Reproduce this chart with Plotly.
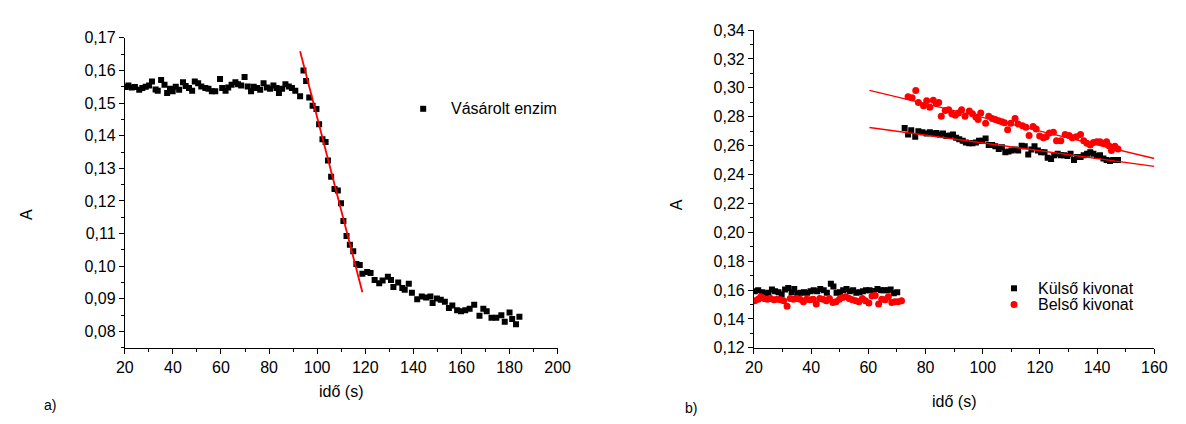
import plotly.graph_objects as go

# ---------------- data: panel a) ----------------
a_x = [20.4, 21.5, 22.9, 24.2, 26.0, 27.3, 28.7, 30.1, 31.3, 32.8, 33.7, 35.1, 36.5, 37.6, 38.8, 39.9,
       41.2, 42.6, 44.2, 45.3, 46.7, 48.0, 49.1, 50.5, 51.8, 53.5, 54.8, 56.2, 57.6, 59.6, 60.5, 61.9,
       63.0, 64.4, 66.0, 67.1, 68.4, 69.8, 71.1, 72.5, 73.6, 75.0, 76.3, 77.7, 79.1, 80.4, 81.8, 83.1,
       84.1, 85.4, 86.8, 88.2, 89.5, 90.9, 92.9,
       94.3, 95.4, 96.7, 98.1, 99.7, 100.8, 102.2, 103.5, 104.5, 105.8, 107.2, 108.6, 109.9, 110.9,
       112.2, 113.6, 115.0, 116.3, 117.7, 118.8,
       120.8, 122.2, 123.9, 125.8, 127.2, 129.4, 130.7, 131.7, 133.7, 135.4, 136.4, 138.1, 139.4,
       141.6, 143.5, 145.3, 147.1, 148.0, 149.8, 151.4, 153.1, 154.8, 156.2, 158.2, 159.8, 161.6,
       163.4, 165.3, 167.5, 169.1, 170.5, 172.5, 174.5, 176.6, 178.0, 180.0, 181.1, 182.7, 184.1]
a_y = [0.1549, 0.1554, 0.1548, 0.1549, 0.1541, 0.1546, 0.1550, 0.1554, 0.1566, 0.1542, 0.1538, 0.1571,
       0.1556, 0.1531, 0.1544, 0.1536, 0.1550, 0.1541, 0.1564, 0.1552, 0.1546, 0.1538, 0.1566, 0.1561,
       0.1551, 0.1546, 0.1544, 0.1536, 0.1536, 0.1574, 0.1546, 0.1538, 0.1548, 0.1556, 0.1564, 0.1558,
       0.1554, 0.1580, 0.1551, 0.1536, 0.1550, 0.1546, 0.1541, 0.1561, 0.1548, 0.1544, 0.1554, 0.1546,
       0.1531, 0.1544, 0.1558, 0.1551, 0.1546, 0.1538, 0.1521,
       0.1600, 0.1568, 0.1517, 0.1492, 0.1482, 0.1435, 0.1389, 0.1381, 0.1324, 0.1274, 0.1237, 0.1232,
       0.1193, 0.1139, 0.1093, 0.1066, 0.1046, 0.1007, 0.1004, 0.0977,
       0.0982, 0.0979, 0.0958, 0.0948, 0.0956, 0.0968, 0.0958, 0.0936, 0.0950, 0.0933, 0.0928, 0.0946,
       0.0919, 0.0899, 0.0907, 0.0904, 0.0907, 0.0887, 0.0901, 0.0897, 0.0891, 0.0872, 0.0880, 0.0865,
       0.0862, 0.0865, 0.0870, 0.0882, 0.0848, 0.0870, 0.0862, 0.0842, 0.0842, 0.0850, 0.0830, 0.0858,
       0.0838, 0.0822, 0.0845]
a_fit_x = [92.9, 118.8]
a_fit_y = [0.1659, 0.0920]

# ---------------- data: panel b) ----------------
kulso_x = [20.3, 21.5, 22.9, 24.0, 25.1, 26.3, 27.4, 28.6, 29.7, 30.9, 32.0, 33.2, 34.1, 35.2, 36.4,
           37.5, 38.6, 39.8, 40.9, 42.1, 43.2, 44.4, 45.5, 46.9, 47.8, 48.9, 50.1, 51.2, 52.4, 53.5,
           54.7, 55.8, 56.9, 58.1, 59.2, 60.4, 61.8, 63.2, 64.4, 65.5, 66.7, 67.8, 68.9, 70.1,
           72.7, 73.9, 75.0, 76.4, 77.5, 78.9, 80.4, 81.5, 82.7, 83.8, 85.0, 86.1, 87.3, 88.4, 89.6,
           90.7, 91.8, 93.0, 94.1, 95.3, 96.4, 97.6, 98.7, 99.8, 101.0, 102.1, 103.3, 104.4, 105.6,
           106.7, 107.9, 109.0, 110.1, 111.3, 112.4, 113.6, 114.7, 115.9, 117.0, 118.1, 119.3, 120.4,
           121.6, 122.7, 123.9, 125.0, 126.2, 127.3, 128.4, 129.6, 130.7, 131.9, 133.0, 134.2, 135.3,
           136.5, 137.6, 138.7, 139.9, 141.0, 142.2, 143.3, 144.5, 145.6, 147.3]
kulso_y = [0.1592, 0.1599, 0.1585, 0.1577, 0.1581, 0.1603, 0.1592, 0.1585, 0.1570, 0.1603, 0.1614,
           0.1585, 0.1607, 0.1577, 0.1581, 0.1585, 0.1581, 0.1592, 0.1599, 0.1592, 0.1607, 0.1599,
           0.1581, 0.1643, 0.1625, 0.1581, 0.1585, 0.1599, 0.1607, 0.1592, 0.1599, 0.1581, 0.1585,
           0.1592, 0.1599, 0.1599, 0.1594, 0.1607, 0.1599, 0.1599, 0.1599, 0.1603, 0.1577, 0.1585,
           0.2722, 0.2677, 0.2706, 0.2662, 0.2700, 0.2693, 0.2684, 0.2693, 0.2684, 0.2688, 0.2677,
           0.2684, 0.2666, 0.2671, 0.2677, 0.2655, 0.2644, 0.2633, 0.2622, 0.2617, 0.2617, 0.2622,
           0.2633, 0.2633, 0.2649, 0.2604, 0.2604, 0.2595, 0.2577, 0.2589, 0.2555, 0.2560, 0.2567,
           0.2573, 0.2567, 0.2600, 0.2595, 0.2538, 0.2573, 0.2595, 0.2567, 0.2555, 0.2555, 0.2516,
           0.2507, 0.2533, 0.2544, 0.2533, 0.2533, 0.2529, 0.2544, 0.2500, 0.2522, 0.2522, 0.2533,
           0.2544, 0.2555, 0.2544, 0.2529, 0.2533, 0.2511, 0.2500, 0.2494, 0.2500, 0.2500]
belso_x = [20.3, 21.5, 22.4, 23.5, 24.7, 25.8, 27.0, 28.1, 29.3, 30.4, 31.6, 32.7, 33.8, 35.0, 36.1,
           37.3, 38.4, 39.6, 40.7, 41.8, 43.0, 44.1, 45.3, 46.4, 47.6, 48.7, 49.9, 51.0, 52.1, 53.3,
           54.4, 55.6, 56.7, 57.9, 59.0, 60.2, 61.3, 62.4, 63.6, 64.7, 65.9, 67.0, 68.2, 69.3, 70.4,
           71.6,
           73.9, 75.3, 76.6, 77.5, 79.3, 80.4, 81.5, 82.7, 83.8, 84.6, 85.5, 86.9, 88.1, 89.2, 90.4,
           91.5, 92.6, 93.8, 95.3, 96.4, 97.6, 98.4, 99.3, 101.0, 102.1, 103.3, 104.4, 105.6, 106.7,
           107.6, 108.7, 109.8, 111.3, 112.4, 113.9, 115.1, 116.2, 117.6, 118.7, 119.9, 121.2, 122.2,
           123.3, 124.7, 125.8, 127.3, 128.8, 130.2, 131.3, 132.7, 134.2, 135.3, 136.4, 137.6, 138.7,
           139.9, 141.0, 142.2, 143.3, 144.1, 145.0, 146.2, 147.3]
belso_y = [0.1526, 0.1537, 0.1554, 0.1541, 0.1537, 0.1541, 0.1532, 0.1537, 0.1532, 0.1526, 0.1488,
           0.1541, 0.1537, 0.1541, 0.1537, 0.1519, 0.1537, 0.1532, 0.1537, 0.1504, 0.1541, 0.1537,
           0.1526, 0.1541, 0.1514, 0.1519, 0.1537, 0.1548, 0.1554, 0.1541, 0.1532, 0.1526, 0.1519,
           0.1541, 0.1526, 0.1510, 0.1559, 0.1563, 0.1504, 0.1537, 0.1532, 0.1554, 0.1514, 0.1519,
           0.1519, 0.1526,
           0.2939, 0.2932, 0.2981, 0.2899, 0.2877, 0.2910, 0.2866, 0.2914, 0.2892, 0.2899, 0.2803,
           0.2843, 0.2848, 0.2821, 0.2810, 0.2826, 0.2848, 0.2803, 0.2839, 0.2821, 0.2799, 0.2781,
           0.2826, 0.2755, 0.2803, 0.2788, 0.2781, 0.2773, 0.2766, 0.2759, 0.2710, 0.2755, 0.2788,
           0.2750, 0.2737, 0.2728, 0.2671, 0.2733, 0.2715, 0.2666, 0.2655, 0.2662, 0.2688, 0.2693,
           0.2633, 0.2633, 0.2677, 0.2671, 0.2655, 0.2662, 0.2677, 0.2633, 0.2617, 0.2604, 0.2622,
           0.2627, 0.2627, 0.2617, 0.2627, 0.2600, 0.2567, 0.2595, 0.2577]
kulso_fit_x = [60.4, 160.0]
kulso_fit_y = [0.2726, 0.2456]
belso_fit_x = [60.4, 160.0]
belso_fit_y = [0.2983, 0.2511]

W, H = 1186, 424
FONT = "Liberation Sans, Arial, sans-serif"


def px(v):
    return v / W


def py(v):
    return (H - v) / H


fig = go.Figure()
fig.add_trace(go.Scatter(x=a_x, y=a_y, mode="markers", xaxis="x", yaxis="y",
                         marker=dict(symbol="square", size=6, color="black"), name="Vásárolt enzim"))
fig.add_trace(go.Scatter(x=a_fit_x, y=a_fit_y, mode="lines", xaxis="x", yaxis="y",
                         line=dict(color="red", width=1.8)))
fig.add_trace(go.Scatter(x=kulso_x, y=kulso_y, mode="markers", xaxis="x2", yaxis="y2",
                         marker=dict(symbol="square", size=6, color="black"), name="Külső kivonat"))
fig.add_trace(go.Scatter(x=belso_x, y=belso_y, mode="markers", xaxis="x2", yaxis="y2",
                         marker=dict(symbol="circle", size=7, color="red"), name="Belső kivonat"))
fig.add_trace(go.Scatter(x=kulso_fit_x, y=kulso_fit_y, mode="lines", xaxis="x2", yaxis="y2",
                         line=dict(color="red", width=1.4)))
fig.add_trace(go.Scatter(x=belso_fit_x, y=belso_fit_y, mode="lines", xaxis="x2", yaxis="y2",
                         line=dict(color="red", width=1.4)))

axis_common = dict(showline=True, linecolor="black", linewidth=1, ticks="outside", ticklen=5,
                   tickwidth=1, tickcolor="black", showgrid=False, zeroline=False,
                   tickfont=dict(family=FONT, size=16, color="black"))

fig.update_layout(
    width=W, height=H, margin=dict(l=0, r=0, t=0, b=0),
    paper_bgcolor="white", plot_bgcolor="white", showlegend=False,
    separators=",.",
    font=dict(family=FONT, size=16, color="black"),
    xaxis=dict(domain=[px(118), px(559)], range=[20, 200], dtick=20, tick0=0, anchor="y",
               minor=dict(dtick=10, ticks="outside", ticklen=3, tickcolor="black"), **axis_common),
    yaxis=dict(domain=[py(354), py(31)], range=[0.075, 0.17002], dtick=0.01, tick0=0,
               tickformat=".2f", anchor="x",
               minor=dict(dtick=0.005, ticks="outside", ticklen=3, tickcolor="black"), **axis_common),
    xaxis2=dict(domain=[px(759), px(1167)], range=[20, 160], dtick=20, tick0=0, anchor="y2",
                minor=dict(dtick=10, ticks="outside", ticklen=3, tickcolor="black"), **axis_common),
    yaxis2=dict(domain=[py(354), py(23)], range=[0.12, 0.34002], dtick=0.02, tick0=0,
                tickformat=".2f", anchor="x2",
                minor=dict(dtick=0.01, ticks="outside", ticklen=3, tickcolor="black"), **axis_common),
)

ann = []


def text(x, y, s, angle=0, xanchor="center", size=16):
    ann.append(dict(x=px(x), y=py(y), xref="paper", yref="paper", text=s, showarrow=False,
                    textangle=angle, xanchor=xanchor, yanchor="middle",
                    font=dict(family=FONT, size=size, color="black")))


text(18, 215, "A", angle=-90)
text(338, 400, "idő (s)")
text(42, 414, "a)", size=14)
text(680, 205, "A", angle=-90)
text(963, 410, "idő (s)")
text(695, 417, "b)", size=14)
# legends
text(448, 105, "Vásárolt enzim", xanchor="left")
text(1046, 292, "Külső kivonat", xanchor="left")
text(1046, 309, "Belső kivonat", xanchor="left")
fig.update_layout(annotations=ann)

shapes = []


def marker_shape(x, y, kind, color, r):
    shapes.append(dict(type=kind, xref="paper", yref="paper", xsizemode="pixel", ysizemode="pixel",
                       xanchor=px(x), yanchor=py(y), x0=-r, x1=r, y0=-r, y1=r,
                       fillcolor=color, line=dict(width=0)))


marker_shape(422, 105, "rect", "black", 3)
marker_shape(1024, 292, "rect", "black", 3)
marker_shape(1024, 309, "circle", "red", 3.5)
fig.update_layout(shapes=shapes)

fig.write_html("out.html", config={"displayModeBar": False},
               post_script="document.body.style.margin='0';document.body.style.overflow='hidden';")
